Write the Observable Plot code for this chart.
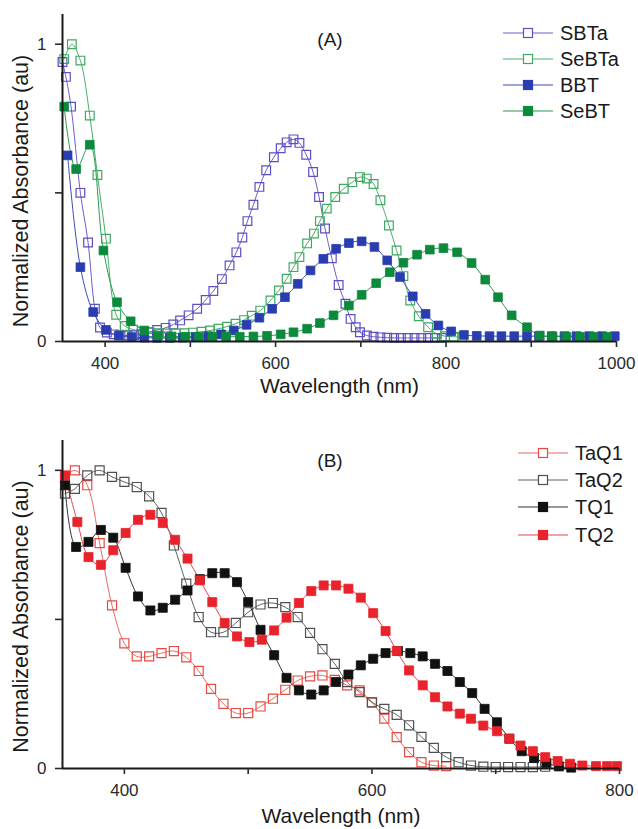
<!DOCTYPE html>
<html><head><meta charset="utf-8">
<script src="https://cdn.jsdelivr.net/npm/d3@7"></script>
<script src="https://cdn.jsdelivr.net/npm/@observablehq/plot@0.6"></script>
<style>
body{margin:0;background:#fff;font-family:"Liberation Sans",Arial,sans-serif;}
#wrap{position:relative;width:638px;height:829px;overflow:hidden;}
.panel{position:absolute;left:0;}
.lg{position:absolute;display:flex;align-items:center;white-space:nowrap;font-size:20px;color:#1a1a1a;line-height:1;transform:translateY(-50%);}
.lg svg{margin-right:7px;}
.tag{position:absolute;font-size:19px;color:#1a1a1a;transform:translate(-50%,-50%);}
</style></head><body><div id="wrap"></div>
<script>
// ---------- Panel A data: [wavelength nm, normalized absorbance] ----------
const SBTa = [[350,0.94],[354,0.89],[360,0.79],[371,0.50],[380,0.333],[388,0.11],[394,0.047],[402,0.03],[410,0.024],[418,0.021],[426,0.02],[434,0.021],[442,0.025],[451,0.031],[461,0.039],[471,0.046],[480,0.057],[488,0.071],[498,0.088],[508,0.11],[518,0.14],[527,0.17],[537,0.21],[546,0.256],[554,0.30],[561,0.35],[567,0.405],[574,0.46],[581,0.52],[589,0.576],[598,0.62],[606,0.65],[613,0.67],[621,0.68],[628,0.668],[636,0.628],[644,0.57],[651,0.486],[658,0.38],[666,0.28],[674,0.19],[682,0.127],[688,0.076],[694,0.048],[699,0.031],[707,0.02],[715,0.016],[723,0.014],[731,0.013],[739,0.012],[747,0.012],[755,0.012],[763,0.012],[771,0.012],[779,0.012],[787,0.012],[795,0.012]];
const SeBTa = [[352,0.95],[361,1.0],[371,0.945],[382,0.76],[391,0.56],[401,0.346],[413,0.09],[423,0.052],[433,0.04],[443,0.034],[453,0.03],[463,0.028],[473,0.027],[483,0.027],[493,0.028],[503,0.03],[513,0.033],[523,0.037],[533,0.043],[543,0.05],[553,0.06],[563,0.072],[572,0.087],[582,0.104],[594,0.138],[604,0.172],[613,0.211],[621,0.25],[628,0.284],[637,0.33],[645,0.363],[652,0.405],[660,0.447],[670,0.486],[680,0.514],[690,0.536],[699,0.553],[707,0.548],[715,0.53],[723,0.475],[733,0.39],[742,0.306],[750,0.22],[758,0.138],[768,0.085],[779,0.048],[789,0.026],[799,0.018],[809,0.016],[819,0.015]];
const BBT = [[356,0.626],[371,0.25],[386,0.099],[401,0.039],[416,0.02],[431,0.015],[446,0.013],[461,0.012],[476,0.012],[491,0.013],[506,0.015],[521,0.018],[536,0.024],[551,0.037],[566,0.056],[581,0.08],[596,0.11],[611,0.149],[626,0.194],[641,0.239],[656,0.278],[671,0.312],[686,0.331],[701,0.337],[716,0.318],[731,0.273],[746,0.217],[761,0.152],[776,0.093],[791,0.054],[806,0.034],[821,0.022],[836,0.019],[851,0.018],[865,0.018],[880,0.018],[895,0.018],[909,0.018],[924,0.018],[939,0.018],[953,0.018],[968,0.018],[983,0.018],[998,0.018]];
const SeBT = [[352,0.79],[366,0.58],[382,0.662],[398,0.306],[414,0.132],[430,0.068],[446,0.037],[462,0.02],[478,0.017],[494,0.016],[510,0.016],[526,0.016],[542,0.016],[558,0.016],[574,0.017],[590,0.019],[606,0.024],[621,0.031],[637,0.043],[652,0.062],[668,0.088],[686,0.121],[701,0.157],[718,0.196],[734,0.233],[750,0.265],[766,0.292],[781,0.309],[797,0.314],[813,0.30],[830,0.264],[846,0.208],[861,0.149],[877,0.088],[895,0.048],[910,0.02],[925,0.017],[941,0.016],[957,0.016],[973,0.016],[989,0.016]];

// ---------- Panel B data ----------
const TaQ1 = [[352,0.975],[360,1.0],[370,0.95],[380,0.756],[390,0.547],[400,0.42],[410,0.376],[420,0.376],[430,0.387],[440,0.394],[450,0.373],[460,0.327],[470,0.267],[480,0.217],[490,0.186],[500,0.186],[510,0.208],[520,0.234],[530,0.264],[540,0.295],[550,0.309],[560,0.312],[570,0.297],[580,0.279],[590,0.262],[600,0.222],[610,0.167],[620,0.105],[630,0.055],[640,0.021],[650,0.01],[660,0.008]];
const TaQ2 = [[352,0.922],[360,0.938],[370,0.983],[380,1.0],[390,0.978],[400,0.961],[410,0.944],[420,0.913],[430,0.857],[440,0.748],[450,0.62],[460,0.508],[470,0.457],[480,0.457],[490,0.488],[500,0.524],[510,0.55],[520,0.555],[530,0.541],[540,0.508],[550,0.455],[560,0.40],[570,0.351],[580,0.29],[590,0.256],[600,0.222],[610,0.2],[620,0.18],[630,0.145],[640,0.106],[650,0.069],[660,0.038],[670,0.021],[680,0.01],[690,0.006],[700,0.005],[710,0.005],[720,0.005],[730,0.005],[740,0.006]];
const TQ1 = [[352,0.95],[361,0.743],[371,0.76],[381,0.80],[391,0.774],[401,0.673],[411,0.577],[421,0.53],[431,0.539],[441,0.566],[451,0.597],[461,0.635],[471,0.655],[481,0.655],[491,0.625],[500,0.558],[510,0.465],[521,0.38],[531,0.304],[541,0.262],[551,0.248],[561,0.262],[571,0.29],[581,0.315],[591,0.346],[601,0.368],[611,0.387],[621,0.394],[631,0.387],[641,0.376],[651,0.351],[661,0.327],[671,0.29],[681,0.253],[691,0.20],[701,0.155],[711,0.10],[721,0.058],[731,0.035],[741,0.018],[751,0.007],[761,0.003]];
const TQ2 = [[352,0.983],[362,0.827],[371,0.709],[381,0.683],[391,0.732],[401,0.79],[411,0.834],[421,0.851],[431,0.823],[441,0.767],[451,0.704],[461,0.631],[471,0.558],[481,0.488],[491,0.443],[501,0.424],[511,0.432],[521,0.463],[531,0.506],[541,0.555],[551,0.595],[561,0.614],[571,0.614],[581,0.603],[591,0.573],[601,0.521],[611,0.461],[620,0.394],[630,0.329],[641,0.279],[651,0.239],[661,0.208],[671,0.184],[680,0.167],[690,0.144],[701,0.125],[711,0.10],[720,0.077],[730,0.058],[740,0.038],[750,0.025],[760,0.016],[770,0.01],[781,0.008],[790,0.008],[798,0.008]];

// ---------- ticks & labels ----------
const xTicksA = [400,500,600,700,800,900,1000];
const xLabelsA = [400,600,800,1000];
const xTicksB = [400,500,600,700,800];
const xLabelsB = [400,600,800];
const yTicks = [0,0.5,1];
const yLabels = [0,1];
const xTitle = "Wavelength (nm)";
const yTitle = "Normalized Absorbance (au)";

const seriesA = [
  {name:"SBTa", pts:SBTa, color:"#5b4fc4", line:"#6a5fcc", filled:false},
  {name:"SeBTa", pts:SeBTa, color:"#3fa862", line:"#4aae6a", filled:false},
  {name:"BBT", pts:BBT, color:"#2a3db0", line:"#3a4bb4", filled:true},
  {name:"SeBT", pts:SeBT, color:"#0c8a3c", line:"#2a9a50", filled:true}
];
const seriesB = [
  {name:"TaQ1", pts:TaQ1, color:"#e84a42", line:"#e86a62", filled:false},
  {name:"TaQ2", pts:TaQ2, color:"#505050", line:"#606060", filled:false},
  {name:"TQ1", pts:TQ1, color:"#111111", line:"#333333", filled:true},
  {name:"TQ2", pts:TQ2, color:"#e8232b", line:"#e8454a", filled:true}
];

function makePanel(cfg){
  const marks = [];
  for (const s of cfg.series) marks.push(Plot.line(s.pts, {x:d=>d[0], y:d=>d[1], stroke:s.line, strokeWidth:1, curve:"catmull-rom"}));
  for (const s of cfg.series.filter(s=>!s.filled)) marks.push(Plot.dot(s.pts, {x:d=>d[0], y:d=>d[1], symbol:"square", r:cfg.r, stroke:s.color, fill:"none", strokeWidth:1.2}));
  for (const s of cfg.series.filter(s=>s.filled)) marks.push(Plot.dot(s.pts, {x:d=>d[0], y:d=>d[1], symbol:"square", r:cfg.r, stroke:s.color, fill:s.color, strokeWidth:0.8}));
  marks.push(Plot.ruleY([0], {stroke:"#1a1a1a", strokeWidth:2}));
  marks.push(Plot.ruleX([cfg.xDomain[0]], {stroke:"#1a1a1a", strokeWidth:2}));
  marks.push(Plot.axisX({ticks:cfg.xTicks, tickFormat:d=>cfg.xLabels.includes(d)?String(d):"", tickSize:6, tickPadding:9, fontSize:17, label:null, strokeWidth:1.6}));
  marks.push(Plot.axisY({ticks:yTicks, tickFormat:d=>yLabels.includes(d)?String(d):"", tickSize:7, tickPadding:9, fontSize:17, label:null, strokeWidth:1.6}));
  marks.push(Plot.text([xTitle], {text:d=>d, frameAnchor:"bottom", dy:cfg.xTitleDy, fontSize:21, lineAnchor:"middle", fill:"#1a1a1a"}));
  marks.push(Plot.text([yTitle], {text:d=>d, frameAnchor:"left", rotate:-90, dx:-41, dy:cfg.yTitleDy, fontSize:21.5, lineAnchor:"middle", textAnchor:"middle", fill:"#1a1a1a"}));
  return Plot.plot({
    width:638, height:cfg.height,
    marginLeft:62, marginRight:cfg.marginRight, marginTop:cfg.marginTop, marginBottom:cfg.marginBottom,
    x:{domain:cfg.xDomain, label:null},
    y:{domain:[0,1.1], label:null},
    style:{fontFamily:"'Liberation Sans', Arial, sans-serif", color:"#2a2a2a", background:"white", overflow:"visible"},
    marks
  });
}

const wrap = document.getElementById("wrap");
const pA = makePanel({series:seriesA, xDomain:[350,1000], xTicks:xTicksA, xLabels:xLabelsA, height:400, marginTop:14, marginBottom:59, marginRight:22, xTitleDy:45, yTitleDy:13, r:4.9});
pA.classList.add("panel"); pA.style.top = "0px";
wrap.appendChild(pA);
const pB = makePanel({series:seriesB, xDomain:[350,800], xTicks:xTicksB, xLabels:xLabelsB, height:429, marginTop:40, marginBottom:61, marginRight:19, xTitleDy:48, yTitleDy:12, r:5.1});
pB.classList.add("panel"); pB.style.top = "400px";
wrap.appendChild(pB);

function legend(series, left, tops){
  series.forEach((s,i)=>{
    const row = document.createElement("div");
    row.className = "lg";
    row.style.left = left + "px";
    row.style.top = tops[i] + "px";
    const fill = s.filled ? s.color : "white";
    row.innerHTML = `<svg width="50" height="12"><line x1="0" y1="6" x2="50" y2="6" stroke="${s.line}" stroke-width="1.2"/><rect x="20.5" y="1.5" width="9" height="9" fill="${fill}" stroke="${s.color}" stroke-width="1.2"/></svg><span>${s.name}</span>`;
    wrap.appendChild(row);
  });
}
legend(seriesA, 503, [33,59,85,111]);
legend(seriesB, 518, [453,480,507,535]);

function tag(t, x, y){
  const d = document.createElement("div");
  d.className = "tag"; d.textContent = t;
  d.style.left = x + "px"; d.style.top = y + "px";
  wrap.appendChild(d);
}
tag("(A)", 330, 40);
tag("(B)", 330, 461);
</script>
</body></html>
